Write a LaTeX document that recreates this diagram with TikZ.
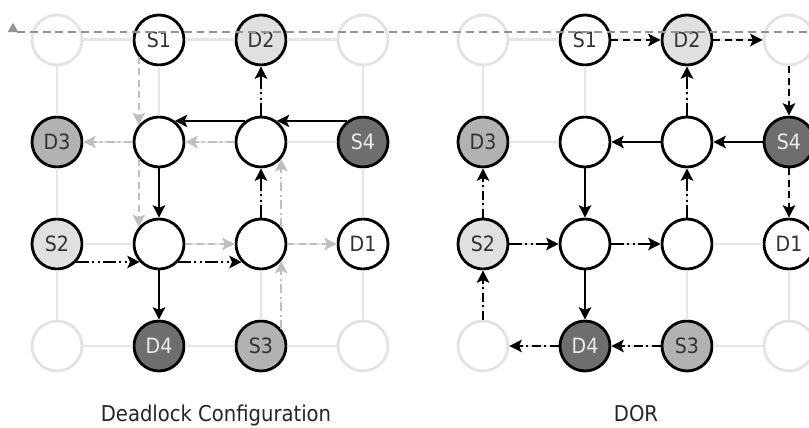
\documentclass[tikz,border=0pt]{standalone}
\usepackage{fontspec}
\setmainfont{DejaVu Sans Condensed}
\usepackage{tikz}
\usetikzlibrary{arrows.meta,shapes.geometric}

\begin{document}
\begin{tikzpicture}[
  x=0.02cm, y=-0.02cm,
  font=\fontsize{12}{14}\selectfont,
  cell/.style={circle,minimum size=1cm,inner sep=0pt,line width=1.6pt,text=black!80},
  idle/.style={cell,draw=gray!22,fill=white},
  router/.style={cell,draw=black,fill=white},
  lite/.style={router,fill=black!12},
  midg/.style={router,fill=black!30},
  dark/.style={router,fill=black!57,text=white!92!black},
  gridline/.style={draw=gray!20,line width=1.7pt},
  flow/.style={line width=1.4pt,-{Stealth[length=7pt,width=7pt,inset=1.5pt]}},
  solidflow/.style={flow},
  dashflow/.style={flow,dash pattern=on 4pt off 2.5pt},
  dotdotflow/.style={flow,dash pattern=on 7pt off 2pt on 1.2pt off 2pt on 1.2pt off 2pt},
  dotflow/.style={flow,dash pattern=on 5pt off 2pt on 1.2pt off 2pt},
  faint/.style={draw=gray!50},
  topline/.style={draw=gray!85,line width=0.6pt,dash pattern=on 4.5pt off 2.8pt},
  caption/.style={anchor=base,font=\fontsize{12.4}{14}\selectfont,text=black!85}
]
\useasboundingbox (0,0) rectangle (809,428);

% routers of both meshes
\foreach \g/\ox in {l/57,r/483} {
  \foreach \s/\t [count=\k from 0] in {idle/{},router/S1,lite/D2,idle/{},
      midg/D3,router/{},router/{},dark/S4,
      lite/S2,router/{},router/{},router/D1,
      idle/{},dark/D4,midg/S3,idle/{}} {
    \pgfmathtruncatemacro\ci{mod(\k,4)}
    \pgfmathtruncatemacro\cj{div(\k,4)}
    \node[\s] (\g\ci\cj) at ({\ox+102*\ci},{40+102*\cj}) {\t};
  }
}

% mesh links
\foreach \g in {l,r} {
  \foreach \i [evaluate=\i as \n using int(\i+1)] in {0,1,2} {
    \foreach \j in {0,...,3} {
      \draw[gridline] (\g\i\j) -- (\g\n\j);
      \draw[gridline] (\g\j\i) -- (\g\j\n);
    }
  }
}

% deadlock configuration
\draw[solidflow] (l31.127) -- (l21.53);
\draw[solidflow] (l21.127) -- (l11.53);
\draw[solidflow] (l11.south) -- (l12.north);
\draw[solidflow] (l12.south) -- (l13.north);
\draw[dotdotflow] (l02.-43) -- (l12.223);
\draw[dotdotflow] (l12.-43) -- (l22.223);
\draw[dotdotflow] (l22.north) -- (l21.south);
\draw[dotdotflow] (l21.north) -- (l20.south);
\draw[dashflow,faint] (l10.220) -- (l11.140);
\draw[dashflow,faint] (l11.220) -- (l12.140);
\draw[dashflow,faint] (l12.east) -- (l22.west);
\draw[dashflow,faint] (l22.east) -- (l32.west);
\draw[dotflow,faint] (l23.40) -- (l22.-40);
\draw[dotflow,faint] (l22.40) -- (l21.-40);
\draw[dotflow,faint] (l21.west) -- (l11.east);
\draw[dotflow,faint] (l11.west) -- (l01.east);

% DOR
\draw[dashflow] (r10.east) -- (r20.west);
\draw[dashflow] (r20.east) -- (r30.west);
\draw[dashflow] (r30.south) -- (r31.north);
\draw[dashflow] (r31.south) -- (r32.north);
\draw[solidflow] (r31.west) -- (r21.east);
\draw[solidflow] (r21.west) -- (r11.east);
\draw[solidflow] (r11.south) -- (r12.north);
\draw[solidflow] (r12.south) -- (r13.north);
\draw[dotdotflow] (r02.east) -- (r12.west);
\draw[dotdotflow] (r12.east) -- (r22.west);
\draw[dotdotflow] (r22.north) -- (r21.south);
\draw[dotdotflow] (r21.north) -- (r20.south);
\draw[dotflow] (r23.west) -- (r13.east);
\draw[dotflow] (r13.west) -- (r03.east);
\draw[dotflow] (r03.north) -- (r02.south);
\draw[dotflow] (r02.north) -- (r01.south);

% top marker line
\node[regular polygon,regular polygon sides=3,fill=gray!85,inner sep=0pt,minimum size=7pt] (tick) at (13,29) {};
\coordinate (lineend) at (812,32);
\draw[topline] (tick.east |- lineend) -- (lineend);

% captions
\node[caption] (capl) at (216,422) {Deadlock Configuration};
\node[caption] (capr) at (636,422) {DOR};
\end{tikzpicture}
\end{document}
